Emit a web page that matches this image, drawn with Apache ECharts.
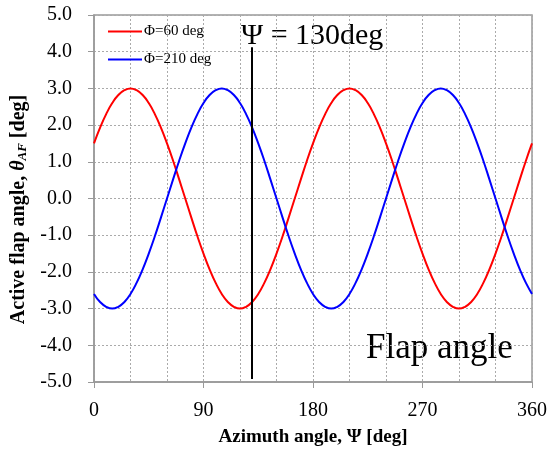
<!DOCTYPE html>
<html lang="en">
<head>
    <meta charset="UTF-8">
    <title>Flap angle</title>
    <script src="https://cdn.jsdelivr.net/npm/echarts@6/dist/echarts.min.js"></script>
</head>
<body style="margin:0">
    <div id="main" style="width: 550px;height:452px;"></div>
    <script type="text/javascript">
        // azimuth angle, deg
        const azimuth = [
            0, 5, 10, 15, 20, 25, 30, 35, 40, 45, 50, 55, 60, 65, 70, 75, 80, 85,
            90, 95, 100, 105, 110, 115, 120, 125, 130, 135, 140, 145, 150, 155, 160, 165, 170, 175,
            180, 185, 190, 195, 200, 205, 210, 215, 220, 225, 230, 235, 240, 245, 250, 255, 260, 265,
            270, 275, 280, 285, 290, 295, 300, 305, 310, 315, 320, 325, 330, 335, 340, 345, 350, 355,
            360];
        // Phi = 60 deg
        const flap60 = [
            1.50, 1.93, 2.30, 2.60, 2.82, 2.95, 3.00, 2.95, 2.82, 2.60, 2.30, 1.93, 1.50, 1.03, 0.52, 0.00, -0.52, -1.03,
            -1.50, -1.93, -2.30, -2.60, -2.82, -2.95, -3.00, -2.95, -2.82, -2.60, -2.30, -1.93, -1.50, -1.03, -0.52, 0.00, 0.52, 1.03,
            1.50, 1.93, 2.30, 2.60, 2.82, 2.95, 3.00, 2.95, 2.82, 2.60, 2.30, 1.93, 1.50, 1.03, 0.52, 0.00, -0.52, -1.03,
            -1.50, -1.93, -2.30, -2.60, -2.82, -2.95, -3.00, -2.95, -2.82, -2.60, -2.30, -1.93, -1.50, -1.03, -0.52, 0.00, 0.52, 1.03,
            1.50];
        // Phi = 210 deg
        const flap210 = [
            -2.60, -2.82, -2.95, -3.00, -2.95, -2.82, -2.60, -2.30, -1.93, -1.50, -1.03, -0.52, 0.00, 0.52, 1.03, 1.50, 1.93, 2.30,
            2.60, 2.82, 2.95, 3.00, 2.95, 2.82, 2.60, 2.30, 1.93, 1.50, 1.03, 0.52, 0.00, -0.52, -1.03, -1.50, -1.93, -2.30,
            -2.60, -2.82, -2.95, -3.00, -2.95, -2.82, -2.60, -2.30, -1.93, -1.50, -1.03, -0.52, 0.00, 0.52, 1.03, 1.50, 1.93, 2.30,
            2.60, 2.82, 2.95, 3.00, 2.95, 2.82, 2.60, 2.30, 1.93, 1.50, 1.03, 0.52, 0.00, -0.52, -1.03, -1.50, -1.93, -2.30,
            -2.60];
        const markPsi = 130;

        const font = 'Liberation Serif';
        const gridLine = { show: true, lineStyle: { color: '#aaa', type: [2, 2], width: 1 } };

        let options = {
            animation: false,
            textStyle: { fontFamily: font },
            grid: { left: 94, right: 17, top: 15, bottom: 67, show: true, borderColor: '#999', borderWidth: 1.5 },
            legend: {
                left: 103, top: 19, orient: 'vertical', itemGap: 13,
                itemWidth: 34, itemHeight: 2, icon: 'rect',
                textStyle: { fontFamily: font, fontSize: 15, color: '#000', padding: [0, 0, 0, -3] },
                data: ['Φ=60 deg', 'Φ=210 deg']
            },
            xAxis: {
                type: 'value', min: 0, max: 360, interval: 90,
                name: 'Azimuth angle, Ψ [deg]', nameLocation: 'middle', nameGap: 46,
                nameTextStyle: { fontFamily: font, fontSize: 19, fontWeight: 'bold', color: '#000' },
                axisLine: { onZero: false, lineStyle: { color: '#999', width: 1.5 } },
                axisTick: { show: true, inside: false, length: 6, lineStyle: { color: '#999' } },
                axisLabel: { fontFamily: font, fontSize: 20, color: '#000', margin: 19 },
                splitLine: gridLine,
                minorTick: { show: false, splitNumber: 3 },
                minorSplitLine: gridLine
            },
            yAxis: {
                type: 'value', min: -5, max: 5, interval: 1,
                name: '{n|Active flap angle, }{i|θ}{s|AF}{n| [deg]}',
                nameLocation: 'middle', nameGap: 58,
                nameTextStyle: {
                    padding: [0, 22, 0, 0],
                    rich: {
                        n: { fontFamily: font, fontSize: 20, fontWeight: 'bold', color: '#000' },
                        i: { fontFamily: font, fontSize: 20, fontWeight: 'bold', fontStyle: 'italic', color: '#000' },
                        s: { fontFamily: font, fontSize: 13, fontWeight: 'bold', fontStyle: 'italic', color: '#000', verticalAlign: 'bottom', padding: [9, 0, 0, 0] }
                    }
                },
                axisLine: { show: true, onZero: false, lineStyle: { color: '#999', width: 1.5 } },
                axisTick: { show: true, inside: false, length: 6, lineStyle: { color: '#999' } },
                axisLabel: { fontFamily: font, fontSize: 20, color: '#000', margin: 22, formatter: (v) => v.toFixed(1) },
                splitLine: gridLine
            },
            series: [
                {
                    name: 'Φ=60 deg', type: 'line', smooth: true, showSymbol: false,
                    data: azimuth.map((a, i) => [a, flap60[i]]),
                    lineStyle: { color: '#ff0000', width: 2 }, itemStyle: { color: '#ff0000' },
                    markLine: {
                        silent: true, symbol: 'none', label: { show: false },
                        lineStyle: { color: '#000', width: 2, type: 'solid' },
                        data: [[{ coord: [markPsi, -4.92] }, { coord: [markPsi, 4.12] }]]
                    }
                },
                {
                    name: 'Φ=210 deg', type: 'line', smooth: true, showSymbol: false,
                    data: azimuth.map((a, i) => [a, flap210[i]]),
                    lineStyle: { color: '#0000ff', width: 2 }, itemStyle: { color: '#0000ff' }
                }
            ],
            graphic: [
                { type: 'text', left: 241, top: 21, style: { text: 'Ψ = 130deg', fontFamily: font, fontSize: 30, fill: '#000' } },
                { type: 'text', left: 366, top: 331, style: { text: 'Flap angle', fontFamily: font, fontSize: 35, fill: '#000' } }
            ]
        };

        let myChart = echarts.init(document.getElementById('main'));
        myChart.setOption(options);
    </script>
</body>
</html>
